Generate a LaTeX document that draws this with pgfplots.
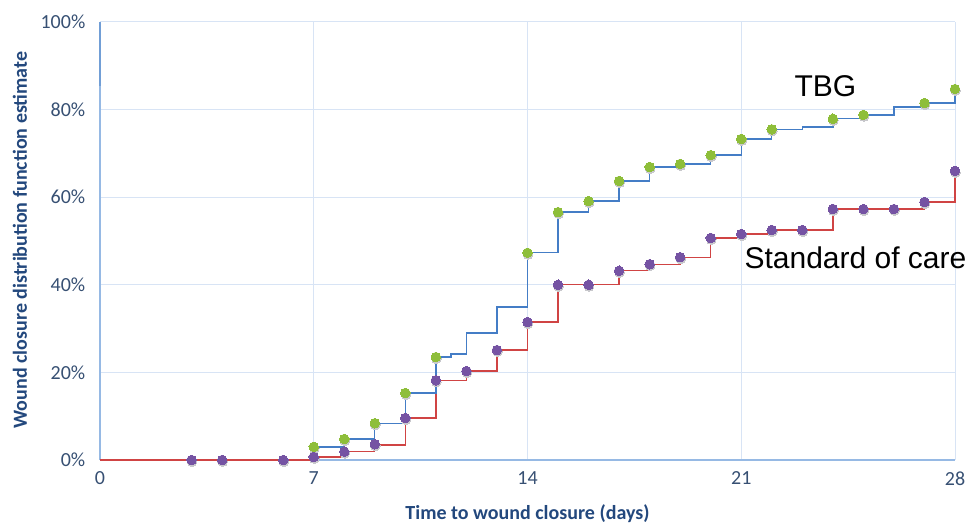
\documentclass[border=0pt]{standalone}
\usepackage{pgfplots}
\pgfplotsset{compat=1.18}
\usepackage{fontspec}
\setmainfont{Carlito}
\newfontfamily\arial{Liberation Sans}
\definecolor{gridc}{RGB}{216,228,245}
\definecolor{axc}{RGB}{150,185,228}
\definecolor{tickc}{RGB}{55,80,115}
\definecolor{labc}{RGB}{35,72,125}
\definecolor{tbgline}{RGB}{68,125,198}
\definecolor{socline}{RGB}{208,68,68}
\definecolor{tbgmark}{RGB}{142,190,58}
\definecolor{socmark}{RGB}{117,83,163}
\definecolor{shadowc}{RGB}{200,200,204}
\begin{document}
\begin{tikzpicture}
\useasboundingbox (-75pt,-47.25pt) rectangle (653.25pt,345pt);
\begin{axis}[
  scale only axis, width=641.25pt, height=328.5pt,
  xmin=0, xmax=28, ymin=0, ymax=100,
  xtick={0,7,14,21,28}, ytick={0,20,40,60,80,100},
  grid=major, major grid style={gridc, line width=0.75pt},
  axis x line=bottom, axis y line=left,
  axis line style={axc, line width=0.9pt, -},
  major tick length=0pt,
  /pgf/number format/assume math mode=true,
  tick label style={font=\fontsize{15}{18}\selectfont, text=tickc},
  yticklabel={\pgfmathprintnumber{\tick}\%},
  yticklabel style={xshift=-7.5pt},
  xticklabel style={yshift=-5pt},
  xlabel={Time to wound closure (days)},
  ylabel={Wound closure distribution function estimate},
  xlabel style={font=\bfseries\fontsize{15}{18}\selectfont, text=labc, at={(axis description cs:0.5,-0.123)}, anchor=center},
  ylabel style={font=\bfseries\fontsize{15}{18}\selectfont, text=labc, at={(axis description cs:-0.0936,0.502)}, anchor=center},
  clip=false,
]
% splice artefact on the left axis
\addplot[axc!55!tbgline, line width=1.3pt, forget plot] coordinates {(0,85.4) (0,100)};
% step lines
\addplot[const plot, socline, line width=1.0pt] coordinates {
(0,0) (7,0.7) (8,1.9) (9,3.4) (10,9.6) (11,18.2) (12,20.3) (13,25.1) (14,31.5)
(15,40) (16,40) (17,43.2) (18,44.7) (19,46.3) (20,50.7) (21,51.6) (22,52.5)
(23,52.5) (24,57.3) (25,57.3) (26,57.3) (27,58.9) (28,66.0)};
\addplot[const plot, tbgline, line width=1.0pt] coordinates {
(7,3.0) (8,4.8) (9,8.4) (10,15.3) (11,23.5) (11.5,24.2) (12,29.0) (13,34.9)
(14,47.3) (15,56.6) (16,59.1) (17,63.7) (18,66.9) (19,67.6) (20,69.6) (21,73.3)
(22,75.5) (23,76.0) (24,77.9) (25,78.8) (26,80.6) (27,81.5) (28,84.7)};
% marker shadows
\addplot[shadowc, only marks, mark=*, mark size=3.6pt, mark options={draw=shadowc, fill=shadowc, line width=0pt}, xshift=0.4pt, yshift=-1.3pt] coordinates {
(3,0) (4,0) (6,0) (7,0.7) (8,1.9) (9,3.6) (10,9.6) (11,18.2) (12,20.3) (13,25.1)
(14,31.5) (15,40) (16,40) (17,43.2) (18,44.7) (19,46.3) (20,50.7) (21,51.6)
(22,52.5) (23,52.5) (24,57.3) (25,57.3) (26,57.3) (27,58.9) (28,66.0)};
\addplot[shadowc, only marks, mark=*, mark size=3.6pt, mark options={draw=shadowc, fill=shadowc, line width=0pt}, xshift=0.4pt, yshift=-1.3pt] coordinates {
(7,3.0) (8,4.8) (9,8.4) (10,15.3) (11,23.5) (14,47.3) (15,56.6) (16,59.1)
(17,63.7) (18,66.9) (19,67.6) (20,69.6) (21,73.3) (22,75.5) (24,77.9) (25,78.8)
(27,81.5) (28,84.7)};
% markers
\addplot[socmark, only marks, mark=*, mark size=3.6pt, mark options={draw=socmark, fill=socmark, line width=0pt}] coordinates {
(3,0) (4,0) (6,0) (7,0.7) (8,1.9) (9,3.6) (10,9.6) (11,18.2) (12,20.3) (13,25.1)
(14,31.5) (15,40) (16,40) (17,43.2) (18,44.7) (19,46.3) (20,50.7) (21,51.6)
(22,52.5) (23,52.5) (24,57.3) (25,57.3) (26,57.3) (27,58.9) (28,66.0)};
\addplot[tbgmark, only marks, mark=*, mark size=3.6pt, mark options={draw=tbgmark, fill=tbgmark, line width=0pt}] coordinates {
(7,3.0) (8,4.8) (9,8.4) (10,15.3) (11,23.5) (14,47.3) (15,56.6) (16,59.1)
(17,63.7) (18,66.9) (19,67.6) (20,69.6) (21,73.3) (22,75.5) (24,77.9) (25,78.8)
(27,81.5) (28,84.7)};
\node[anchor=base west, inner sep=0pt, font=\arial\fontsize{22.5}{27}\selectfont] at (axis cs:22.74,82.9) {TBG};
\node[anchor=base west, inner sep=0pt, font=\arial\fontsize{22.5}{27}\selectfont] at (axis cs:21.10,43.8) {Standard of care};
\end{axis}
\end{tikzpicture}
\end{document}
